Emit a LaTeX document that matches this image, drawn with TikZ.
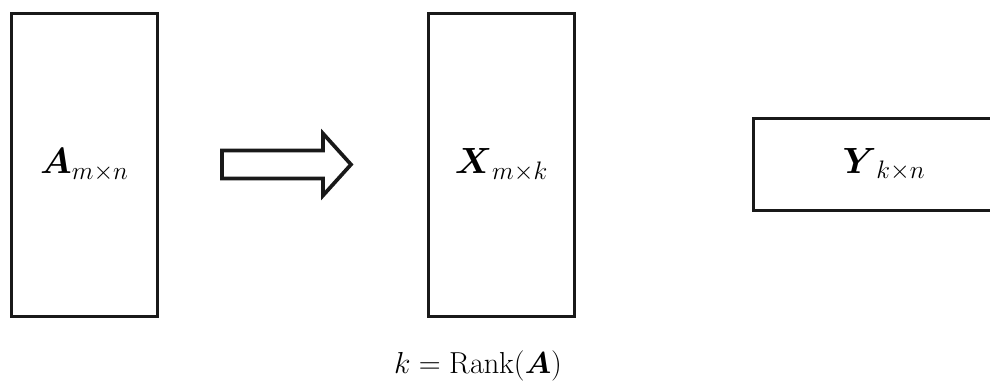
\documentclass[tikz,border=0pt]{standalone}
\usepackage{amsmath,amssymb}
\usepackage{xcolor}
\usetikzlibrary{positioning,calc}

\begin{document}
\begin{tikzpicture}[
  x=1cm, y=1cm,
  every node/.style={font=\fontsize{19.5}{23}\selectfont},
  % tall matrix boxes and the wide one on the right
  tallbox/.style={
    draw=black!90,
    line width=2.1pt,
    minimum width=2.92cm,
    minimum height=6.06cm,
    inner sep=0pt
  },
  widebox/.style={
    draw=black!90,
    line width=2.1pt,
    minimum width=5.22cm,
    minimum height=1.84cm,
    inner sep=0pt
  },
  blockarrow/.style={draw=black!90, line width=2.1pt, line join=miter, fill=white}
]

\useasboundingbox (0,0) rectangle (19.8,7.64);

\node[tallbox] (amat) at (1.69,4.34) {$\boldsymbol{A}_{m\times n}$};
\node[tallbox] (xmat) at (10.03,4.34) {$\boldsymbol{X}_{m\times k}$};
\node[widebox] (ymat) at (17.68,4.35) {$\boldsymbol{Y}_{k\times n}$};

% hollow arrow between A and X
\coordinate (arrtail) at (4.44,4.35);
\draw[blockarrow] ($(arrtail)+(0,-0.28)$) -- ($(arrtail)+(2.02,-0.28)$)
  -- ($(arrtail)+(2.02,-0.62)$) -- ($(arrtail)+(2.58,0)$)
  -- ($(arrtail)+(2.02,0.62)$) -- ($(arrtail)+(2.02,0.28)$)
  -- ($(arrtail)+(0,0.28)$) -- cycle;

\node[anchor=base, font=\fontsize{18.5}{22}\selectfont] (rank) at (9.56,0.17) {$k=\mathrm{Rank}(\boldsymbol{A})$};

\end{tikzpicture}
\end{document}
